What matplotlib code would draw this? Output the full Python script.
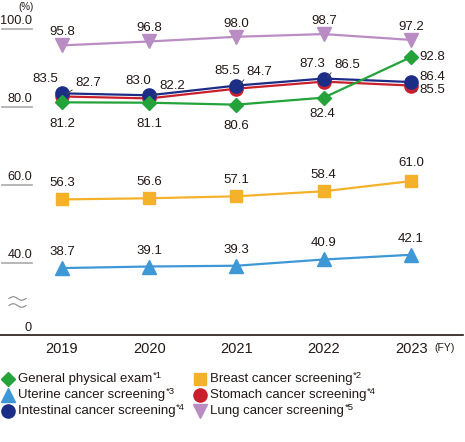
import matplotlib
matplotlib.use("Agg")
import matplotlib.pyplot as plt
from matplotlib.lines import Line2D
import numpy as np

plt.rcParams["font.family"] = ["Liberation Sans", "DejaVu Sans"]

YEARS = [2019, 2020, 2021, 2022, 2023]
YEAR_LABELS = ["2019", "2020", "2021", "2022", "2023"]

GENERAL    = [81.2, 81.1, 80.6, 82.4, 92.8]
BREAST     = [56.3, 56.6, 57.1, 58.4, 61.0]
UTERINE    = [38.7, 39.1, 39.3, 40.9, 42.1]
STOMACH    = [82.7, 82.2, 84.7, 86.5, 85.5]
INTESTINAL = [83.5, 83.0, 85.5, 87.3, 86.4]
LUNG       = [95.8, 96.8, 98.0, 98.7, 97.2]

Y_TICKS = [40, 60, 80, 100]
Y_TICK_LABELS = ["40.0", "60.0", "80.0", "100.0"]

TEXT_COLOR = "#231815"
VAL_FS = 9.5

# (name, note, values, color, marker, size, zorder, label offsets in px, leader line)
SERIES = [
    ("Lung cancer screening", "*5", LUNG, "#b98dc3", "v", 9.5, 3,
     [(0, 13)] * 5, False),
    ("Breast cancer screening", "*2", BREAST, "#f5b12a", "s", 8, 3,
     [(0, 16)] * 4 + [(0, 18)], False),
    ("Uterine cancer screening", "*3", UTERINE, "#3e98d6", "^", 9.5, 3,
     [(0, 16)] * 5, False),
    ("Stomach cancer screening", "*4", STOMACH, "#c9202e", "o", 9.5, 4,
     [(26, 13), (23, 12), (23, 17), (23, 17), (21, -4)], True),
    ("Intestinal cancer screening", "*4", INTESTINAL, "#1c2d87", "o", 9.5, 5,
     [(-17, 14), (-11, 14), (-9, 15), (-12, 15), (21, 5)], False),
    ("General physical exam", "*1", GENERAL, "#23a33a", "D", 7.5, 6,
     [(0, -22), (0, -21), (0, -21), (-2, -16), (21, 0)], False),
]

W, H = 465, 442
fig = plt.figure(figsize=(W / 100, H / 100), dpi=100)
ax = fig.add_axes([0, 107 / H, 463 / W, 1 - 107 / H])

px_per_unit = 3.9
y_top = 100 + 29 / px_per_unit
y_bot = 100 - (335 - 29) / px_per_unit
y_zero = 100 - (328 - 29) / px_per_unit
ax.set_ylim(y_bot, y_top)
ax.set_xlim(2019 - 62 / 87.4, 2023 + 52 / 87.4)

for name, note, vals, color, marker, ms, z, offs, leader in SERIES:
    ax.plot(YEARS, vals, color=color, lw=1.6, marker=marker, ms=ms,
            mec=color, zorder=z, clip_on=False)
    for x, v, (dx, dy) in zip(YEARS, vals, offs):
        kw = dict(textcoords="offset pixels", ha="center", va="center",
                  fontsize=VAL_FS, color=TEXT_COLOR, zorder=10)
        if leader:
            kw["arrowprops"] = dict(arrowstyle="-", lw=0.7, color="#444444",
                                    relpos=(0, 0.1), shrinkA=0, shrinkB=4)
        ax.annotate(f"{v:.1f}", (x, v), xytext=(dx, dy), **kw)

# y axis labels with short grey rules
ytr = ax.get_yaxis_transform()
for t, lab in zip(Y_TICKS, Y_TICK_LABELS):
    ax.plot([2 / 463, 32 / 463], [t, t], color="#aaaaaa", lw=1.2, transform=ytr, clip_on=False)
    ax.text(32 / 463, t + 0.4, lab, ha="right", va="bottom", fontsize=9.2,
            color=TEXT_COLOR, transform=ytr)
ax.text(32 / 463, y_zero, "0", ha="right", va="center", fontsize=9.2,
        color=TEXT_COLOR, transform=ytr)

# axis break mark
wx = np.linspace(9 / 463, 26 / 463, 40)
wave = 0.45 * np.sin((wx - wx[0]) / (wx[-1] - wx[0]) * 2 * np.pi)
y_break = 100 - (302 - 29) / px_per_unit
for off in (0.9, -0.9):
    ax.plot(wx, y_break + off + wave, color="#888888", lw=0.8, transform=ytr, clip_on=False)

ax.text(26 / 463, 100 + 22 / px_per_unit, "(%)", ha="center", va="center",
        fontsize=7, color=TEXT_COLOR, transform=ytr)

ax.set_xticks(YEARS)
ax.set_xticklabels(YEAR_LABELS, fontsize=10.5, color=TEXT_COLOR)
ax.tick_params(axis="x", length=0, pad=5)
ax.set_yticks([])
for s in ["left", "right", "top"]:
    ax.spines[s].set_visible(False)
ax.spines["bottom"].set_color("#231815")
ax.spines["bottom"].set_linewidth(1.2)
ax.set_facecolor("none")

fig.text(445 / W, 1 - 348 / H, "(FY)", ha="center", va="center", fontsize=7.5, color=TEXT_COLOR)

# legend, drawn by hand: 3 rows x 2 columns
grid = [[SERIES[5], SERIES[1]], [SERIES[2], SERIES[3]], [SERIES[4], SERIES[0]]]
row_y = [379, 395, 411]
col_x = [8, 200]
renderer = fig.canvas.get_renderer()
for r, row in enumerate(grid):
    for c, s in enumerate(row):
        fx, fy = col_x[c] / W, 1 - row_y[r] / H
        fig.add_artist(Line2D([fx], [fy], ls="none", marker=s[4], color=s[3],
                              ms=s[5], transform=fig.transFigure))
        t = fig.text(fx + 10 / W, fy, s[0], ha="left", va="center", fontsize=9.5,
                     color=TEXT_COLOR)
        bb = t.get_window_extent(renderer)
        fig.text(bb.x1 / W + 0.5 / W, fy + 4 / H, s[1], ha="left", va="center",
                 fontsize=6.8, color=TEXT_COLOR)

fig.savefig("out.png", dpi=100)
